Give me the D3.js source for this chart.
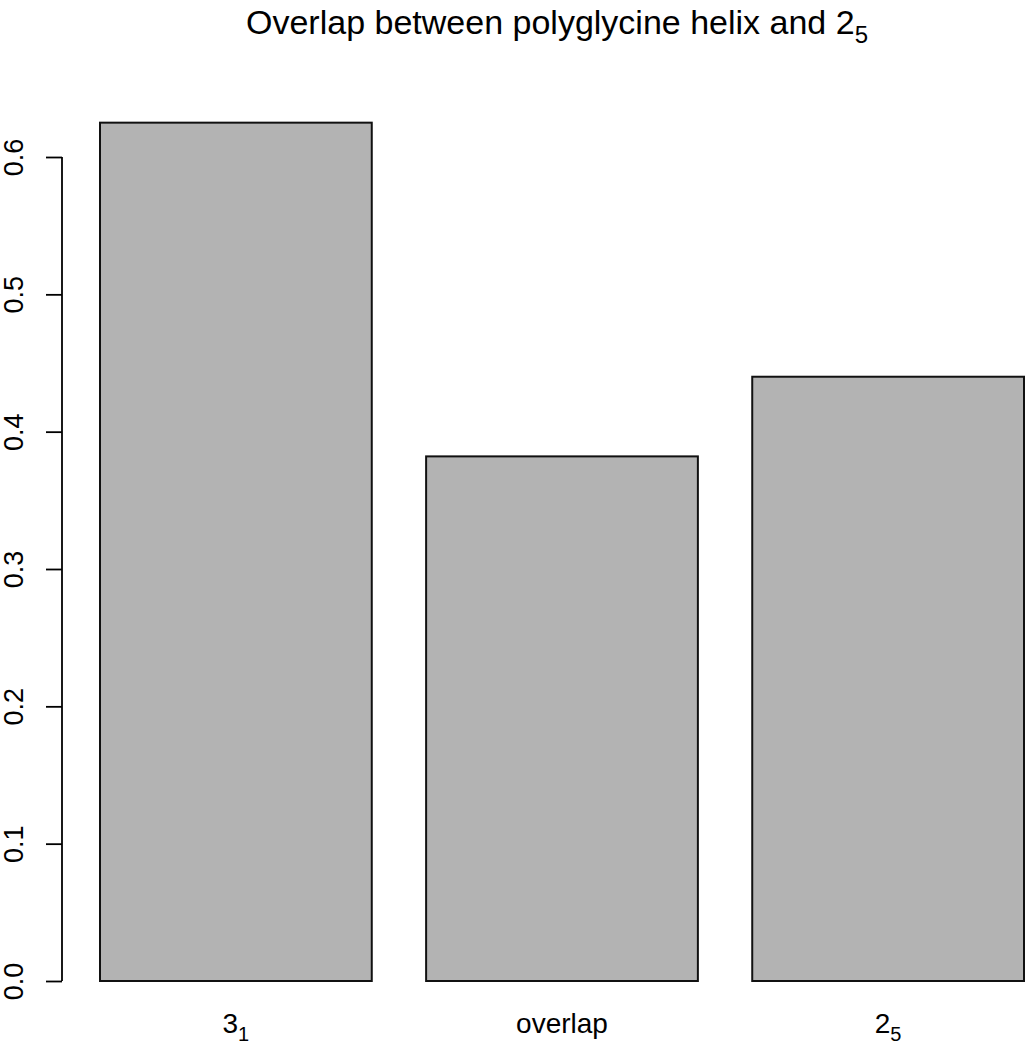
<!DOCTYPE html>
<html>
<head>
<meta charset="utf-8">
<script src="https://cdn.jsdelivr.net/npm/d3@7"></script>
<style>
  html, body { margin: 0; padding: 0; background: #fff; }
  svg { display: block; font-family: "Liberation Sans", Arial, sans-serif; }
</style>
</head>
<body>
<svg id="chart" width="1029" height="1050"></svg>
<script>
// Data
const categories = ["3_1", "overlap", "2_5"];
const labelMain = ["3", "overlap", "2"];
const labelSub = ["1", "", "5"];
const values = [0.625, 0.382, 0.44];
const yTicks = [0, 0.1, 0.2, 0.3, 0.4, 0.5, 0.6];
const titleMain = "Overlap between polyglycine helix and 2";
const titleSub = "5";

const svg = d3.select("#chart");

const x = d3.scaleBand()
  .domain(categories)
  .range([100, 1024])
  .paddingInner(0.2 / 1.2)
  .paddingOuter(0);

const y = d3.scaleLinear()
  .domain([0, 0.6])
  .range([981, 157]);

// Bars
svg.append("g").selectAll("rect")
  .data(values)
  .join("rect")
  .attr("x", (d, i) => x(categories[i]))
  .attr("y", d => y(d))
  .attr("width", x.bandwidth())
  .attr("height", d => y(0) - y(d))
  .attr("fill", "#b3b3b3")
  .attr("stroke", "#111")
  .attr("stroke-width", 2);

// Y axis
const yAxis = d3.axisLeft(y)
  .tickValues(yTicks)
  .tickFormat(d3.format(".1f"))
  .tickSize(16)
  .tickPadding(0);

const gy = svg.append("g")
  .attr("transform", "translate(62,0)")
  .call(yAxis);
gy.select(".domain").attr("stroke", "#000").attr("stroke-width", 1.8)
  .attr("d", `M0,${y(0)}V${y(0.6)}`);
gy.selectAll(".tick line").attr("stroke", "#000").attr("stroke-width", 1.8);
gy.selectAll(".tick text")
  .attr("font-size", 27)
  .attr("fill", "#000")
  .attr("font-family", "Liberation Sans, Arial, sans-serif")
  .attr("text-anchor", "middle")
  .attr("dy", null)
  .attr("x", null)
  .attr("transform", "translate(-39,0) rotate(-90)");

// X labels
const xl = svg.append("g").selectAll("text")
  .data(categories)
  .join("text")
  .attr("x", d => x(d) + x.bandwidth() / 2)
  .attr("y", 1033)
  .attr("text-anchor", "middle")
  .attr("font-size", 28)
  .attr("fill", "#000");
xl.append("tspan").text((d, i) => labelMain[i]);
xl.append("tspan")
  .attr("font-size", 20)
  .attr("dy", 8)
  .text((d, i) => labelSub[i]);

// Title
const t = svg.append("text")
  .attr("x", 557)
  .attr("y", 34)
  .attr("text-anchor", "middle")
  .attr("font-size", 34)
  .attr("fill", "#000");
t.append("tspan").text(titleMain);
t.append("tspan").attr("font-size", 24).attr("dy", 9).text(titleSub);
</script>
</body>
</html>
